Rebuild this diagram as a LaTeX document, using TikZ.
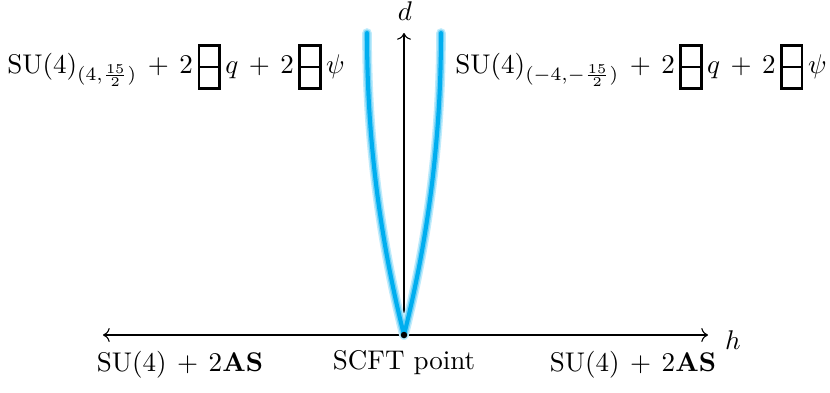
\documentclass[tikz,border=0pt]{standalone}
\usepackage{amsmath,amssymb}
\usetikzlibrary{arrows.meta,positioning,calc}
\definecolor{Bc}{HTML}{00AEEF}
\definecolor{Bglow}{HTML}{BFEBFB}
\tikzset{
  axis/.style={thin, black},
  glowline/.style={line width=3.6pt, Bglow, line cap=round},
  midline/.style={line width=2.5pt, Bc!55, line cap=round},
  brane/.style={line width=1.5pt, Bc, line cap=round},
  pt/.style={circle, fill=black, inner sep=0pt, minimum size=2.4pt},
  lbl/.style={inner sep=0pt},
}
% antisymmetric tableau: two boxes stacked
\newcommand{\asbox}{\mathord{\vcenter{\offinterlineskip\hbox{\vrule width 0.9pt\vbox{\hrule height 0.9pt\hbox{\vrule height 7pt width 0pt\hspace{6.8pt}}\hrule height 0.9pt\hbox{\vrule height 7pt width 0pt\hspace{6.8pt}}\hrule height 0.9pt}\vrule width 0.9pt}}}}
\begin{document}
\begin{tikzpicture}[x=0.37pt, y=-0.37pt]
  \useasboundingbox (0,0) rectangle (830,392);
  \coordinate (origin) at (404,335);
  \coordinate (dtop) at (404,33);
  \coordinate (hleft) at (103,335);
  \coordinate (hright) at (708,335);
  \coordinate (ltop) at (367,33);
  \coordinate (rtop) at (441,33);
  % axes
  \draw[axis, <->] (hleft) -- (hright);
  \draw[axis, ->] (origin) -- (dtop);
  % branches
  \foreach \st in {glowline, midline, brane}{
    \draw[\st] (origin) .. controls (379,235) and (367,135) .. (ltop);
    \draw[\st] (origin) .. controls (429,235) and (441,135) .. (rtop);
  }
  \node[pt] (scft) at (origin) {};
  % labels
  \node[lbl] (dlabel) at (405,11) {$d$};
  \node[lbl] (hlabel) at (733,340) {$h$};
  \node[lbl] (topleft) at (176,67) {$\mathrm{SU}(4)_{(4,\frac{15}{2})}\,+\,2\,\asbox\,q\,+\,2\,\asbox\,\psi$};
  \node[lbl] (topright) at (641,67) {$\mathrm{SU}(4)_{(-4,-\frac{15}{2})}\,+\,2\,\asbox\,q\,+\,2\,\asbox\,\psi$};
  \node[lbl] (botleft) at (180,365) {$\mathrm{SU}(4)\,+\,2\mathbf{AS}$};
  \node[lbl] (botright) at (633,365) {$\mathrm{SU}(4)\,+\,2\mathbf{AS}$};
  \node[lbl, below=4pt of scft] (scftlabel) {SCFT point};
\end{tikzpicture}
\end{document}
